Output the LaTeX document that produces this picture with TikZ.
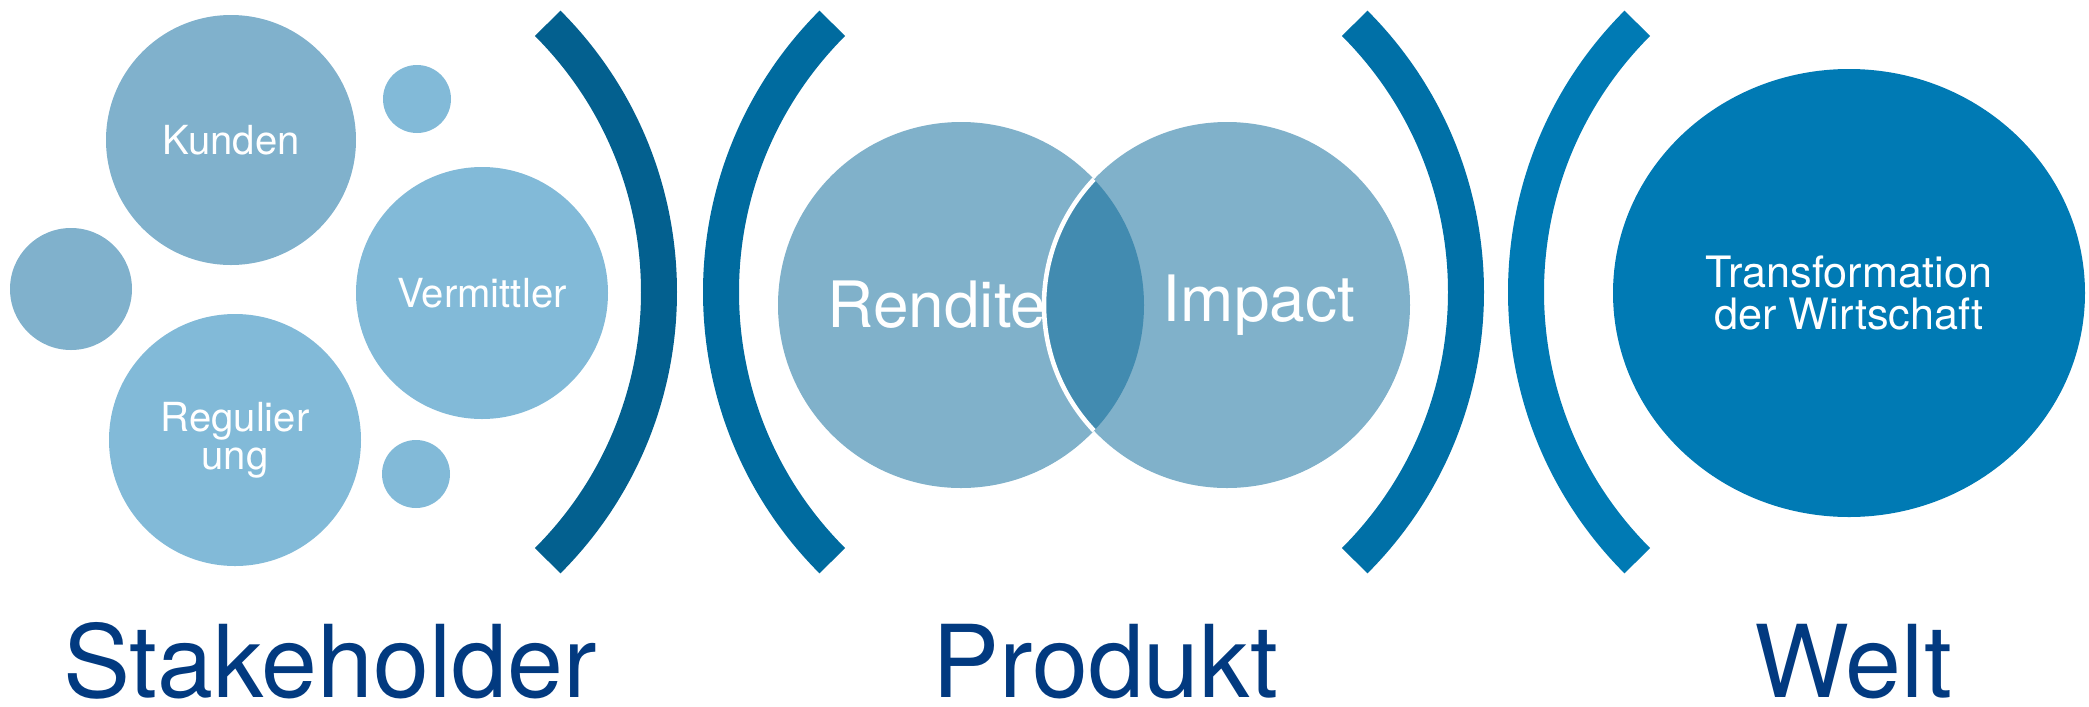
\documentclass[tikz,border=0pt]{standalone}
\usepackage{fontspec}
\setmainfont{TeX Gyre Heros}
\usepackage{tikz}
\usetikzlibrary{shapes.geometric}
\definecolor{bubbleA}{HTML}{80B1CC}
\definecolor{bubbleB}{HTML}{82BAD8}
\definecolor{vennfill}{HTML}{80B1CA}
\definecolor{lensfill}{HTML}{428BB0}
\definecolor{arcA}{HTML}{03608F}
\definecolor{arcB}{HTML}{006B9F}
\definecolor{arcC}{HTML}{0070A7}
\definecolor{arcD}{HTML}{007AB4}
\definecolor{weltblue}{HTML}{007AB4}
\definecolor{titleblue}{HTML}{023A80}
\tikzset{
   bubble/.style={circle, inner sep=0pt, text=white, align=center,
                  font=\fontsize{11.4}{10.8}\selectfont},
   dot/.style={circle, inner sep=0pt, fill=bubbleB},
   venn/.style={circle, inner sep=0pt, minimum size=3.66cm, fill=vennfill},
   bracket/.style={line width=0.36cm},
   title/.style={anchor=base, inner sep=0pt, text=titleblue, font=\fontsize{28.6}{30}\selectfont}
}

\begin{document}
\begin{tikzpicture}
\useasboundingbox (0,0) rectangle (20.89,7.06);
\node[bubble, fill=bubbleA, minimum size=2.50cm] (kunden) at (2.31,5.66) {Kunden};
\node[dot, minimum size=0.68cm] (dottop) at (4.17,6.07) {};
\node[dot, fill=bubbleA, minimum size=1.22cm] (dotleft) at (0.71,4.17) {};
\node[bubble, fill=bubbleB, minimum size=2.52cm] (vermittler) at (4.82,4.13) {Vermittler};
\node[bubble, fill=bubbleB, minimum size=2.52cm] (regulierung) at (2.35,2.66) {Regulier\\ung};
\node[dot, minimum size=0.68cm] (dotbottom) at (4.16,2.32) {};
\draw[bracket, arcA] (2.79,4.14) ++(-45:3.8) arc[start angle=-45, end angle=45, radius=3.8];
\draw[bracket, arcB] (11.01,4.14) ++(135:3.8) arc[start angle=135, end angle=225, radius=3.8];
\node[venn] (rendite) at (9.61,4.01) {};
\node[venn] (impact) at (12.27,4.01) {};
\begin{scope}
\clip (rendite.center) circle (1.83);
\fill[lensfill] (impact.center) circle (1.83);
\draw[white, line width=1.3pt] (impact.center) circle (1.83);
\end{scope}
\node[text=white, font=\fontsize{18.2}{20}\selectfont] (renditetext) at ([xshift=-0.24cm]rendite.center) {Rendite};
\node[text=white, font=\fontsize{18.2}{20}\selectfont] (impacttext) at ([xshift=0.32cm]impact.center) {Impact};
\draw[bracket, arcC] (10.86,4.14) ++(-45:3.8) arc[start angle=-45, end angle=45, radius=3.8];
\draw[bracket, arcD] (19.06,4.14) ++(135:3.8) arc[start angle=135, end angle=225, radius=3.8];
\node[ellipse, inner sep=0pt, fill=weltblue, minimum width=4.72cm, minimum height=4.48cm,
      text=white, align=center, font=\fontsize{12.3}{12.2}\selectfont] (transformation) at (18.49,4.13) {Transformation\\der Wirtschaft};
\node[title] (stakeholder) at (3.30,0.09) {Stakeholder};
\node[title] (produkt) at (11.05,0.09) {Produkt};
\node[title] (welt) at (18.53,0.09) {Welt};
\end{tikzpicture}
\end{document}
